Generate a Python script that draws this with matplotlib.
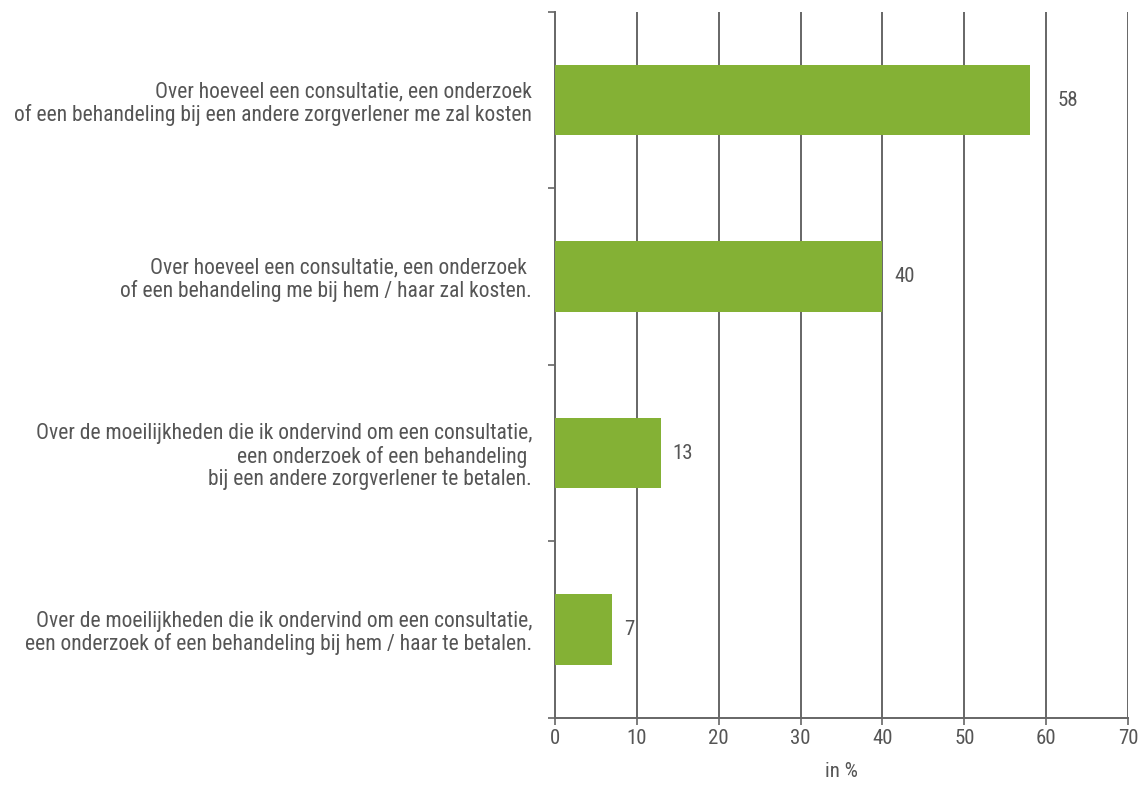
import matplotlib.pyplot as plt
import numpy as np

plt.rcParams['font.family'] = ['Roboto Condensed', 'DejaVu Sans']

labels = [
    "Over hoeveel een consultatie, een onderzoek\nof een behandeling bij een andere zorgverlener me zal kosten",
    "Over hoeveel een consultatie, een onderzoek \nof een behandeling me bij hem / haar zal kosten.",
    "Over de moeilijkheden die ik ondervind om een consultatie,\neen onderzoek of een behandeling \nbij een andere zorgverlener te betalen.",
    "Over de moeilijkheden die ik ondervind om een consultatie,\neen onderzoek of een behandeling bij hem / haar te betalen.",
]
values = [58, 40, 13, 7]

green = '#84b135'
grey = '#666666'
txt = '#555555'
fs = 15.5
fs_num = 15

fig = plt.figure(figsize=(11.45, 7.87), dpi=100)
ax = fig.add_axes([0.4847, 0.0877, 0.5005, 0.8973])

pos = np.arange(len(values))[::-1] + 0.5
ax.barh(pos, values, height=0.4, color=green, zorder=3)
for p, v in zip(pos, values):
    # value label right of the bar, pushed past a gridline if it would sit on one
    x = v + 1.4
    nxt = np.ceil(x / 10) * 10
    if nxt < x + 1.1 * len(str(v)):
        x = nxt + 1.4
    ax.text(x, p, str(v), va='center', ha='left', fontsize=fs_num, color=txt)

ax.set_xlim(0, 70)
ax.set_ylim(0, len(values))
ax.set_xticks(range(0, 71, 10))
ax.set_yticks(range(0, len(values) + 1))
ax.set_yticklabels([])
ax.set_yticks(pos, minor=True)
ax.set_yticklabels(labels, minor=True, fontsize=fs, color=txt, ha='right',
                   linespacing=1.1)
ax.tick_params(axis='y', which='minor', length=0, pad=16.5)
ax.tick_params(axis='y', which='major', length=5, width=1.2, color=grey)
ax.tick_params(axis='x', length=5, width=1.2, color=grey, labelsize=fs_num,
               labelcolor=txt, pad=3)

for x in range(10, 71, 10):
    ax.axvline(x, color=grey, lw=1.4, zorder=1)

for s in ['top', 'right']:
    ax.spines[s].set_visible(False)
for s in ['left', 'bottom']:
    ax.spines[s].set_color(grey)
    ax.spines[s].set_linewidth(1.4)

ax.set_xlabel('in %', fontsize=fs_num, color=txt, labelpad=10)

fig.savefig('out.png', dpi=100)
